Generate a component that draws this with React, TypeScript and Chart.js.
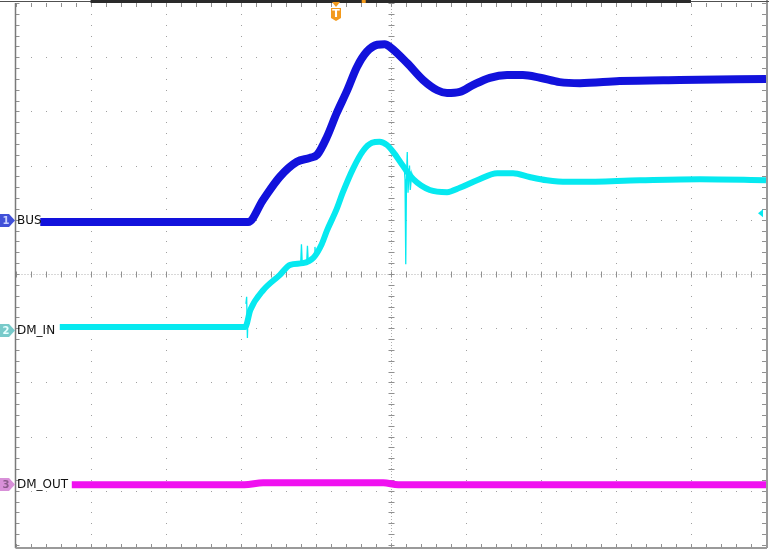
import React, { useEffect, useRef } from "react";
import { Chart, registerables } from "chart.js";

Chart.register(...registerables);

// Time axis in divisions (0..10), level in divisions (-5..5)
const busTime = [0.33, 3.1, 3.3, 3.52, 3.75, 3.92, 4.02, 4.15, 4.28, 4.42, 4.55, 4.68, 4.82, 4.92, 4.99, 5.22, 5.43, 5.62, 5.75, 5.92, 6.1, 6.32, 6.55, 6.76, 6.99, 7.25, 7.52, 8.05, 8.85, 10];
const busLevel = [0.96, 0.96, 1.37, 1.79, 2.07, 2.14, 2.2, 2.53, 2.97, 3.39, 3.82, 4.1, 4.23, 4.24, 4.19, 3.89, 3.58, 3.39, 3.34, 3.36, 3.49, 3.62, 3.67, 3.67, 3.62, 3.54, 3.52, 3.56, 3.58, 3.6];

const inTime = [0.59, 3.06, 3.13, 3.3, 3.52, 3.66, 3.83, 3.97, 4.08, 4.15, 4.28, 4.36, 4.5, 4.63, 4.75, 4.85, 4.95, 5.05, 5.15, 5.3, 5.52, 5.75, 5.92, 6.15, 6.42, 6.63, 6.85, 7.08, 7.35, 7.52, 8.32, 9.12, 10];
const inLevel = [-0.98, -0.98, -0.66, -0.3, -0.02, 0.17, 0.2, 0.3, 0.55, 0.8, 1.2, 1.5, 1.95, 2.27, 2.42, 2.44, 2.38, 2.22, 2.02, 1.75, 1.55, 1.51, 1.59, 1.73, 1.86, 1.86, 1.79, 1.73, 1.7, 1.7, 1.73, 1.75, 1.73];

const spikeTime = [3.07, 3.08, 3.09, 3.1, 3.11, 3.8, 3.81, 3.82, 3.83, 3.88, 3.89, 3.9, 3.91, 3.98, 3.99, 4.0, 4.01, 5.16, 5.18, 5.19, 5.2, 5.21, 5.22, 5.23, 5.25, 5.26, 5.28, 5.3];
const spikeLevel = [-0.55, -0.42, -1.18, -0.7, null, 0.2, 0.55, 0.22, null, 0.22, 0.52, 0.25, null, 0.35, 0.5, 0.35, null, 2.0, 1.95, 1.75, 0.18, 1.8, 2.25, 1.5, 2.0, 1.55, 1.85, 1.7];

const outTime = [0.75, 3.05, 3.3, 4.9, 5.1, 10];
const outLevel = [-3.89, -3.89, -3.85, -3.85, -3.89, -3.89];

const channelNames = ["BUS", "DM_IN", "DM_OUT"];
const channelNumbers = ["1", "2", "3"];
const channelOffsets = [0.99, -1.03, -3.87];
const triggerTime = 4.27;

const BLUE = "#1212dc";
const CYAN = "#06e9f0";
const MAGENTA = "#f010f0";

const pts = (xs: number[], ys: (number | null)[]) => xs.map((x, i) => ({ x, y: ys[i] }));

const gridPlugin = {
  id: "scopeGrid",
  beforeDatasetsDraw(chart: any) {
    const { ctx, chartArea, scales } = chart;
    const xs = scales.x;
    const ys = scales.y;
    const L = chartArea.left, R = chartArea.right, T = chartArea.top, B = chartArea.bottom;
    ctx.save();
    ctx.fillStyle = "#a0a0a0";
    for (let i = 0; i <= 10; i++) {
      const px = Math.round(xs.getPixelForValue(i));
      for (let j = 0; j <= 50; j++) {
        const py = Math.round(ys.getPixelForValue(-5 + j * 0.2));
        ctx.fillRect(px, py, 1, 1);
      }
    }
    for (let k = -5; k <= 5; k++) {
      const py = Math.round(ys.getPixelForValue(k));
      for (let m = 0; m <= 50; m++) {
        const px = Math.round(xs.getPixelForValue(m * 0.2));
        ctx.fillRect(px, py, 1, 1);
      }
    }
    // center cross
    const cx = Math.round(xs.getPixelForValue(5)) + 0.5;
    const cy = Math.round(ys.getPixelForValue(0)) + 0.5;
    ctx.strokeStyle = "#b0b0b0";
    ctx.lineWidth = 1;
    ctx.setLineDash([1, 2]);
    ctx.beginPath();
    ctx.moveTo(cx, T);
    ctx.lineTo(cx, B);
    ctx.moveTo(L, cy);
    ctx.lineTo(R, cy);
    ctx.stroke();
    ctx.setLineDash([]);
    ctx.strokeStyle = "#909090";
    ctx.beginPath();
    for (let j = 0; j <= 50; j++) {
      const py = Math.round(ys.getPixelForValue(-5 + j * 0.2)) + 0.5;
      ctx.moveTo(cx - 3, py);
      ctx.lineTo(cx + 3, py);
      ctx.moveTo(L, py);
      ctx.lineTo(L + 4, py);
      ctx.moveTo(R - 4, py);
      ctx.lineTo(R, py);
    }
    for (let m = 0; m <= 50; m++) {
      const px = Math.round(xs.getPixelForValue(m * 0.2)) + 0.5;
      ctx.moveTo(px, cy - 3);
      ctx.lineTo(px, cy + 3);
      ctx.moveTo(px, T);
      ctx.lineTo(px, T + 4);
      ctx.moveTo(px, B + 3);
      ctx.lineTo(px, B - 1);
    }
    ctx.stroke();
    // borders
    ctx.strokeStyle = "#7a7a7a";
    ctx.lineWidth = 1.5;
    ctx.beginPath();
    ctx.moveTo(L, T);
    ctx.lineTo(L, B + 3);
    ctx.stroke();
    ctx.strokeStyle = "#9a9a9a";
    ctx.lineWidth = 2;
    ctx.beginPath();
    ctx.moveTo(R + 1, 0);
    ctx.lineTo(R + 1, B + 3);
    ctx.moveTo(L, B + 3);
    ctx.lineTo(R + 1, B + 3);
    ctx.stroke();
    ctx.strokeStyle = "#505050";
    ctx.lineWidth = 1;
    ctx.beginPath();
    ctx.moveTo(0, 1.5);
    ctx.lineTo(chart.width, 1.5);
    ctx.stroke();
    ctx.fillStyle = "#2a2a2a";
    ctx.fillRect(xs.getPixelForValue(1), 0, xs.getPixelForValue(9) - xs.getPixelForValue(1), 3);
    ctx.restore();
  },
  afterDatasetsDraw(chart: any) {
    const { ctx, scales } = chart;
    const xs = scales.x;
    const ys = scales.y;
    ctx.save();
    const markerFill = ["#4050d8", "#78caca", "#d890d8"];
    const numColor = ["#c8d0ff", "#e8ffff", "#8a5a8a"];
    channelNames.forEach((name, i) => {
      const y = Math.round(ys.getPixelForValue(channelOffsets[i])) + 0.5;
      ctx.fillStyle = markerFill[i];
      ctx.beginPath();
      ctx.moveTo(0, y - 6.5);
      ctx.lineTo(9, y - 6.5);
      ctx.lineTo(15, y);
      ctx.lineTo(9, y + 6.5);
      ctx.lineTo(0, y + 6.5);
      ctx.closePath();
      ctx.fill();
      ctx.fillStyle = numColor[i];
      ctx.font = "bold 10px 'DejaVu Sans'";
      ctx.textAlign = "center";
      ctx.textBaseline = "middle";
      ctx.fillText(channelNumbers[i], 6, y + 0.5);
      ctx.fillStyle = "#111";
      ctx.font = "12px 'DejaVu Sans'";
      ctx.textAlign = "left";
      ctx.fillText(name, 17, y);
    });
    // trigger marker
    const tx = Math.round(xs.getPixelForValue(triggerTime));
    ctx.fillStyle = "#f39a1c";
    ctx.beginPath();
    ctx.moveTo(tx - 4, 2);
    ctx.lineTo(tx + 4, 2);
    ctx.lineTo(tx, 7);
    ctx.closePath();
    ctx.fill();
    ctx.beginPath();
    ctx.moveTo(tx - 5, 8);
    ctx.lineTo(tx + 5, 8);
    ctx.lineTo(tx + 5, 18);
    ctx.lineTo(tx, 21);
    ctx.lineTo(tx - 5, 18);
    ctx.closePath();
    ctx.fill();
    ctx.fillStyle = "#fff";
    ctx.font = "bold 11px 'DejaVu Sans'";
    ctx.textAlign = "center";
    ctx.textBaseline = "middle";
    ctx.fillText("T", tx, 14);
    ctx.fillStyle = "#f39a1c";
    ctx.fillRect(xs.getPixelForValue(4.64) - 2, 0, 4, 3);
    // right-side cyan arrow
    const ay = ys.getPixelForValue(1.12);
    const ax = chart.chartArea.right;
    ctx.fillStyle = CYAN;
    ctx.beginPath();
    ctx.moveTo(ax - 8, ay);
    ctx.lineTo(ax - 3, ay - 4);
    ctx.lineTo(ax - 3, ay + 4);
    ctx.closePath();
    ctx.fill();
    ctx.restore();
  },
};

export default function App() {
  const ref = useRef<HTMLCanvasElement | null>(null);
  useEffect(() => {
    if (!ref.current) return;
    const chart = new Chart(ref.current, {
      type: "line",
      data: {
        datasets: [
          {
            data: pts(outTime, outLevel),
            borderColor: MAGENTA,
            borderWidth: 7,
            pointRadius: 0,
            cubicInterpolationMode: "monotone",
          },
          {
            data: pts(spikeTime, spikeLevel),
            borderColor: CYAN,
            borderWidth: 1.3,
            pointRadius: 0,
            tension: 0,
            spanGaps: false,
          },
          {
            data: pts(inTime, inLevel),
            borderColor: CYAN,
            borderWidth: 6,
            pointRadius: 0,
            cubicInterpolationMode: "monotone",
          },
          {
            data: pts(busTime, busLevel),
            borderColor: BLUE,
            borderWidth: 8,
            pointRadius: 0,
            cubicInterpolationMode: "monotone",
          },
        ] as any,
      },
      options: {
        animation: false,
        responsive: false,
        maintainAspectRatio: false,
        layout: { padding: { left: 15.5, right: 3, top: 3, bottom: 5 } },
        plugins: { legend: { display: false }, tooltip: { enabled: false } },
        scales: {
          x: { type: "linear", min: 0, max: 10, display: false },
          y: { type: "linear", min: -5, max: 5, display: false },
        },
      },
      plugins: [gridPlugin],
    });
    return () => chart.destroy();
  }, []);
  return (
    <div style={{ position: "fixed", left: 0, top: 0, width: 769, height: 550, background: "#fff" }}>
      <canvas ref={ref} width={769} height={550} style={{ display: "block" }} />
    </div>
  );
}
